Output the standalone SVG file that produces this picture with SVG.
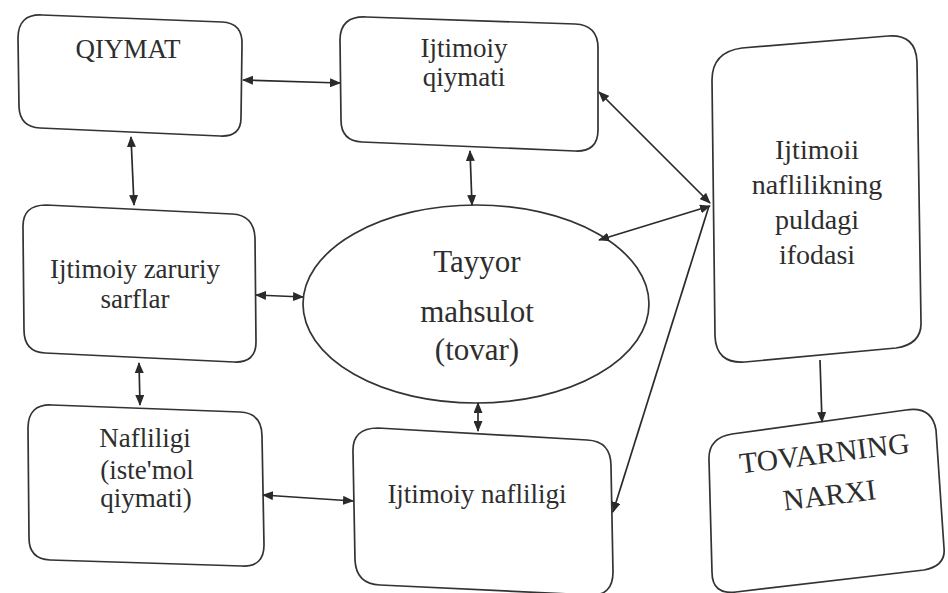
<svg xmlns="http://www.w3.org/2000/svg" width="948" height="593" viewBox="0 0 948 593">
<style>
.box{fill:#fff;stroke:#333;stroke-width:1.7}
.t{font-family:"Liberation Serif",serif;fill:#2e2e2e;text-anchor:middle;font-size:27px}
.c{stroke:#2a2a2a;stroke-width:1.7;fill:none}
</style>
<defs>
<marker id="a" markerUnits="userSpaceOnUse" markerWidth="11" markerHeight="9" refX="10" refY="4.5" orient="auto-start-reverse">
<path d="M0,0 L11,4.5 L0,9 Z" fill="#2a2a2a"/>
</marker>
</defs>
<rect width="948" height="593" fill="#fff"/>
<g id="qiymat">
<path class="box" d="M18,38 Q18,14 42,15 L222,22 Q243,23 242,45 L241,118 Q241,137 220,136 L40,128 Q20,127 19,107 Z"/>
<text class="t" x="128" y="58">QIYMAT</text>
</g>
<g id="ijtimoiy-qiymati">
<path class="box" d="M340,40 Q340,16 366,17 L575,24 Q598,25 598,48 L598,130 Q598,152 575,151 L362,142 Q341,141 341,120 Z"/>
<text class="t" x="464" y="57">Ijtimoiy</text>
<text class="t" x="464" y="86">qiymati</text>
</g>
<g id="pul-ifodasi">
<path class="box" d="M712,80 Q712,52 742,48 L888,36 Q916,34 917,62 L921,322 Q922,344 896,348 L745,362 Q716,364 715,336 Z"/>
<text class="t" x="817" y="159" style="font-size:28px">Ijtimoii</text>
<text class="t" x="817" y="194" style="font-size:28px">naflilikning</text>
<text class="t" x="817" y="229" style="font-size:28px">puldagi</text>
<text class="t" x="817" y="264" style="font-size:28px">ifodasi</text>
</g>
<g id="zaruriy-sarflar">
<path class="box" d="M23,228 Q22,205 46,205 L232,214 Q254,215 255,238 L256,342 Q256,363 234,362 L45,353 Q24,352 24,330 Z"/>
<text class="t" x="135" y="278">Ijtimoiy zaruriy</text>
<text class="t" x="135" y="308">sarflar</text>
</g>
<g id="tovar">
<ellipse class="box" cx="476" cy="304" rx="173" ry="99"/>
<text class="t" x="477" y="272" style="font-size:31px">Tayyor</text>
<text class="t" x="477" y="322" style="font-size:31px">mahsulot</text>
<text class="t" x="477" y="360" style="font-size:31px">(tovar)</text>
</g>
<g id="nafliligi">
<path class="box" d="M28,428 Q28,404 52,405 L240,412 Q262,413 262,436 L264,545 Q264,567 242,566 L50,560 Q29,559 29,538 Z"/>
<text class="t" x="145" y="447">Nafliligi</text>
<text class="t" x="147" y="479">(iste'mol</text>
<text class="t" x="146" y="507">qiymati)</text>
</g>
<g id="ijtimoiy-nafliligi">
<path class="box" d="M353,452 Q352,428 378,428 L587,440 Q611,441 611,466 L613,572 Q613,596 590,595 L380,585 Q356,584 355,560 Z"/>
<text class="t" x="477" y="503">Ijtimoiy nafliligi</text>
</g>
<g id="tovar-narxi">
<path class="box" d="M709,460 Q708,438 732,434 L906,410 Q932,406 936,430 L944,548 Q946,566 924,570 L736,592 Q712,595 712,572 Z"/>
<g transform="rotate(-7 827 475)">
<text class="t" x="827" y="463" style="font-size:29.5px">TOVARNING</text>
<text class="t" x="827" y="505" style="font-size:29.5px">NARXI</text>
</g>
</g>
<g id="connectors">
<line class="c" x1="243" y1="80" x2="340" y2="83" marker-start="url(#a)" marker-end="url(#a)"/>
<line class="c" x1="131" y1="137" x2="134" y2="205" marker-start="url(#a)" marker-end="url(#a)"/>
<line class="c" x1="470" y1="151" x2="472" y2="205" marker-start="url(#a)" marker-end="url(#a)"/>
<line class="c" x1="256" y1="295" x2="303" y2="297" marker-start="url(#a)" marker-end="url(#a)"/>
<line class="c" x1="139" y1="363" x2="140" y2="405" marker-start="url(#a)" marker-end="url(#a)"/>
<line class="c" x1="478" y1="403" x2="478" y2="431" marker-start="url(#a)" marker-end="url(#a)"/>
<line class="c" x1="263" y1="495" x2="353" y2="501" marker-start="url(#a)" marker-end="url(#a)"/>
<line class="c" x1="599" y1="92" x2="710" y2="203" marker-start="url(#a)" marker-end="url(#a)"/>
<line class="c" x1="599" y1="240" x2="710" y2="206" marker-start="url(#a)" marker-end="url(#a)"/>
<line class="c" x1="709" y1="206" x2="613" y2="512" marker-end="url(#a)"/>
<line class="c" x1="820" y1="360" x2="822" y2="422" marker-end="url(#a)"/>
</g>
</svg>
